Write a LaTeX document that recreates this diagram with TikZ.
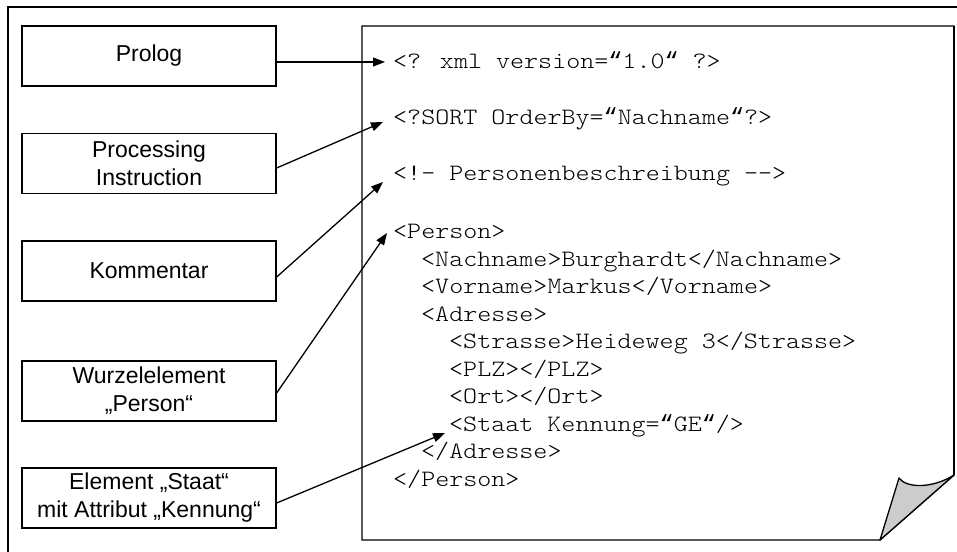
\documentclass[tikz,border=0pt]{standalone}
\usepackage{fontspec}
\setmainfont{Liberation Sans}
\newfontfamily\codefont[FakeStretch=1.14]{Latin Modern Mono Light}
\newfontfamily\quotefont{Liberation Mono}
\newcommand\cq{{\quotefont “}}
\usetikzlibrary{arrows.meta}

\tikzset{
  labelbox/.style={draw, line width=1.3pt, minimum width=254pt, minimum height=60pt,
    inner sep=0pt, align=center, font=\fontsize{23}{28}\selectfont},
  codeline/.style={anchor=base west, inner sep=0pt,
    font=\codefont\fontsize{23.45}{27.5}\selectfont},
  pointer/.style={line width=1.3pt, -{Triangle[length=12pt,width=9pt]}},
}

\begin{document}
\begin{tikzpicture}[x=1pt, y=-1pt]
  \clip (0,0) rectangle (957,551);
  \fill[white] (0,0) rectangle (957,551);

  % outer frame (only its top and left sides lie inside the picture)
  \draw[line width=2.2pt] (8,7) rectangle (990,590);

  % the sheet of paper with a curled corner
  \draw[line width=1.3pt, fill=white]
    (362,26) -- (954,26) -- (954,475) -- (880,540) -- (362,540) -- cycle;
  \draw[line width=2.6pt] (954,26) -- (954,475);
  \draw[line width=1.3pt, fill=black!20, line join=round]
    (880,540) -- (899,478) .. controls (906,488) and (932,489) .. (954,475) -- cycle;

  % the XML listing
  \node[codeline] (l1)  at (393,68)    {<? xml version=\cq1.0\cq{} ?>};
  \node[codeline] (l2)  at (393,124)   {<?SORT OrderBy=\cq Nachname\cq?>};
  \node[codeline] (l3)  at (393,180)   {<!- Personenbeschreibung -->};
  \node[codeline] (l4)  at (393,238.5) {<Person>};
  \node[codeline] (l5)  at (421,266)   {<Nachname>Burghardt</Nachname>};
  \node[codeline] (l6)  at (421,293.5) {<Vorname>Markus</Vorname>};
  \node[codeline] (l7)  at (421,321)   {<Adresse>};
  \node[codeline] (l8)  at (449,348.5) {<Strasse>Heideweg 3</Strasse>};
  \node[codeline] (l9)  at (449,376)   {<PLZ></PLZ>};
  \node[codeline] (l10) at (449,403.5) {<Ort></Ort>};
  \node[codeline] (l11) at (449,431)   {<Staat Kennung=\cq GE\cq/>};
  \node[codeline] (l12) at (421,458.5) {</Adresse>};
  \node[codeline] (l13) at (393,486)   {</Person>};

  % explanation boxes
  \node[labelbox] (prolog) at (149,56)    {Prolog};
  \node[labelbox] (pi)     at (149,163.5) {Processing\\Instruction};
  \node[labelbox] (komm)   at (149,271)   {Kommentar};
  \node[labelbox] (wurzel) at (149,391)   {Wurzelelement\\„Person“};
  \node[labelbox] (staat)  at (149,498)   {Element „Staat“\\mit Attribut „Kennung“};

  % arrow targets in front of the listing lines
  \coordinate (tipProlog) at (385,62);
  \coordinate (tipPI)     at (383,122);
  \coordinate (tipKomm)   at (383,182);
  \coordinate (tipWurzel) at (387,233);
  \coordinate (tipStaat)  at (445,433);

  \draw[pointer] ([yshift=-6pt]prolog.east) -- (tipProlog);
  \draw[pointer] ([yshift=-4.5pt]pi.east)   -- (tipPI);
  \draw[pointer] ([yshift=-6pt]komm.east)   -- (tipKomm);
  \draw[pointer] ([yshift=-2pt]wurzel.east) -- (tipWurzel);
  \draw[pointer] ([yshift=-5pt]staat.east)  -- (tipStaat);
\end{tikzpicture}
\end{document}
